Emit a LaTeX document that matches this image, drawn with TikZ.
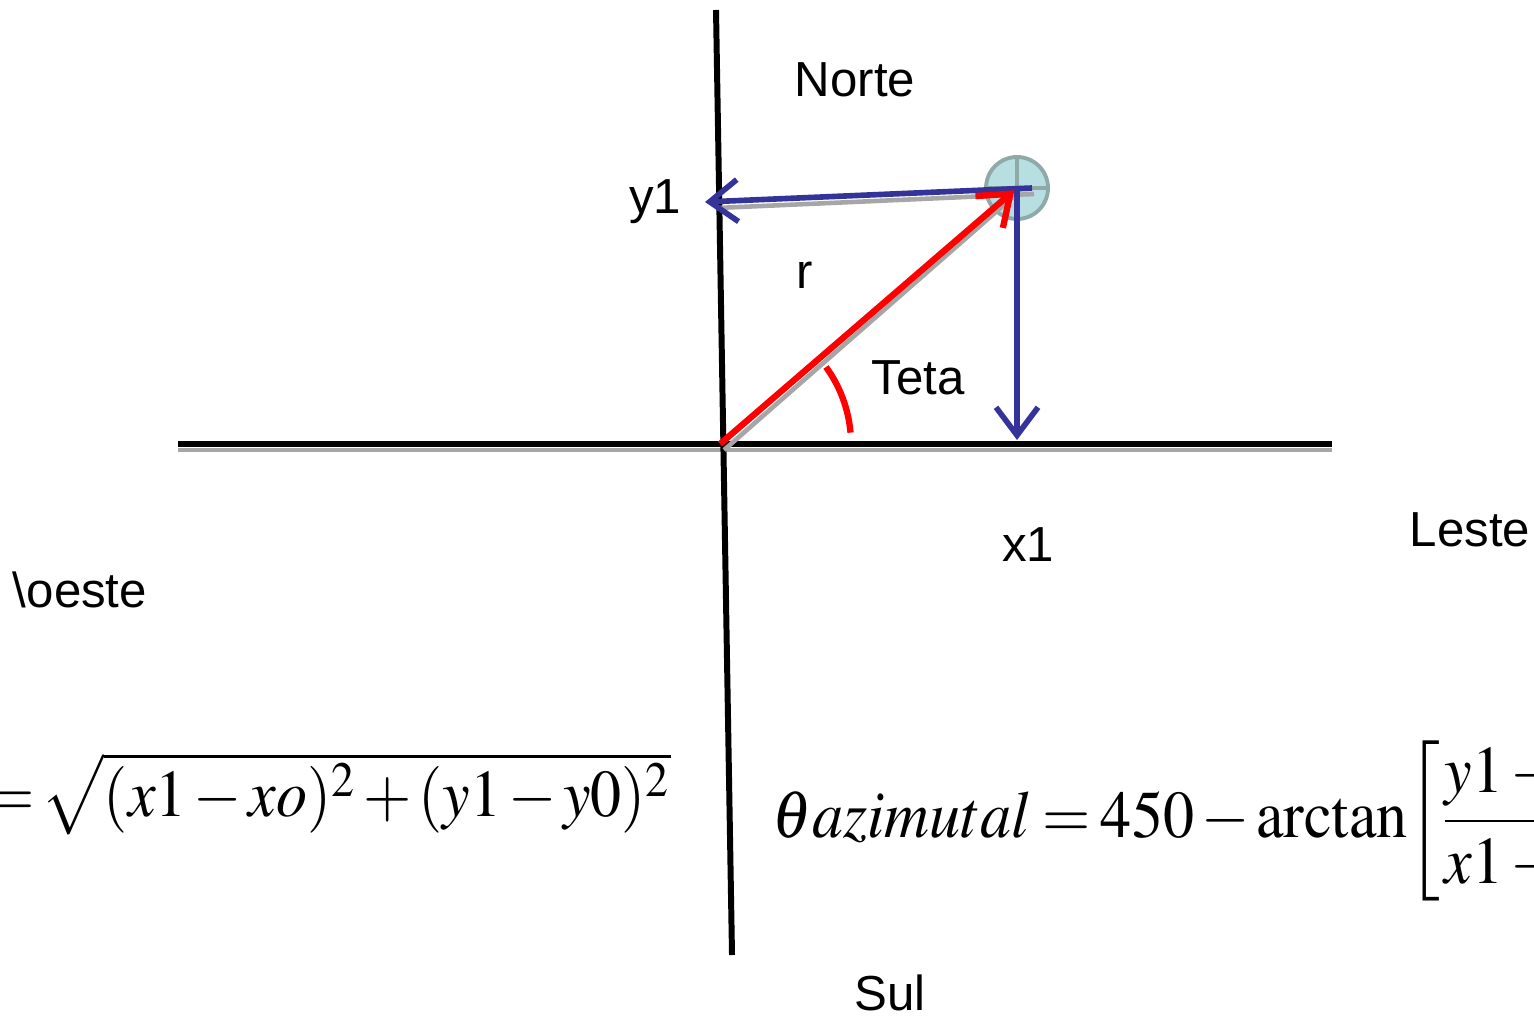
\documentclass[tikz,border=0pt]{standalone}
\usepackage{mathptmx}
\usepackage[no-math]{fontspec}
\setmainfont{Liberation Sans}
\usepackage{amsmath}
\usetikzlibrary{arrows.meta, calc}
\definecolor{Ink}{HTML}{000000}
\definecolor{AxisShade}{HTML}{A6A6A6}
\definecolor{DeepBlue}{HTML}{333399}
\definecolor{HotRed}{HTML}{FF0000}
\definecolor{PinFill}{HTML}{B7DFE1}
\definecolor{PinLine}{HTML}{8FA9A9}
\newcommand{\tightmath}{\medmuskip=2mu\thickmuskip=3mu\thinmuskip=1mu}
\newcommand{\narrowed}[1]{\scalebox{0.93}[1]{#1}}

\begin{document}
\begin{tikzpicture}[
  font=\fontsize{14}{16}\selectfont,
  axis/.style={draw=Ink, line width=1.7pt},
  shade/.style={draw=AxisShade, line width=1.3pt},
  vec/.style={line width=1.6pt, -{Straight Barb[length=2.8mm, width=4.2mm]}},
  label/.style={inner sep=1pt},
  formula/.style={inner sep=0pt, font=\fontsize{19}{22}\selectfont\tightmath}
]
\useasboundingbox (0,0) rectangle (15.34,10.16);
\clip (0,0) rectangle (15.34,10.16);

% reference points
\coordinate (O) at (7.20,5.72);
\coordinate (P) at (10.17,8.28);
\coordinate (ntop) at (7.16,10.06);
\coordinate (sbot) at (7.32,0.61);
\coordinate (wend) at (1.78,5.72);
\coordinate (eend) at (13.32,5.72);
\coordinate (ystart) at (10.32,8.28);
\coordinate (yend) at (7.05,8.14);
\coordinate (xend) at (10.17,5.76);

% axes
\draw[shade] ($(wend)+(0,-0.06)$) -- ($(eend)+(0,-0.06)$);
\draw[axis] (ntop) -- (sbot);
\draw[axis] (wend) -- (eend);

% target
\node[circle, draw=PinLine, fill=PinFill, line width=1.1pt, minimum size=0.62cm, inner sep=0pt] (pin) at (P) {};
\draw[PinLine, line width=1.1pt] (pin.north) -- (pin.south) (pin.west) -- (pin.east);

% components
\draw[shade] ($(ystart)+(0.02,-0.06)$) -- ($(yend)+(0.12,-0.06)$);
\draw[vec, DeepBlue] (ystart) -- (yend);
\draw[vec, DeepBlue] (P) -- (xend);

% radius and angle
\draw[shade] ($(O)+(0.04,-0.06)$) -- ($(P)+(-0.04,-0.09)$);
\draw[vec, HotRed, line width=1.8pt, shorten >=1pt] (O) -- (P);
\draw[HotRed, line width=1.8pt] ($(O)+(5:1.31)$) arc[start angle=5, end angle=36, radius=1.31];

% labels
\node[label] (norte) at (8.55,9.36) {Norte};
\node[label] (ylab) at (6.55,8.14) {y1};
\node[label] (rlab) at (8.05,7.41) {r};
\node[label] (teta) at (9.18,6.38) {Teta};
\node[label] (xlab) at (10.28,4.71) {x1};
\node[label] (leste) at (14.70,4.86) {Leste};
\node[label] (oeste) at (0.80,4.26) {\textbackslash oeste};
\node[label] (sul) at (8.90,0.23) {Sul};

% formulas
\node[formula, anchor=west] (rform) at (-0.14,2.22) {\narrowed{$=\!\sqrt{(x1-xo)^{2}+(y1-y0)^{2}}$}};
\node[formula, anchor=west] (azform) at (7.72,1.95) {\narrowed{$\theta\!\!\: azimutal = 450-\arctan\!\left[\dfrac{y1-{}}{x1-{}}\right.$}};
\end{tikzpicture}
\end{document}
